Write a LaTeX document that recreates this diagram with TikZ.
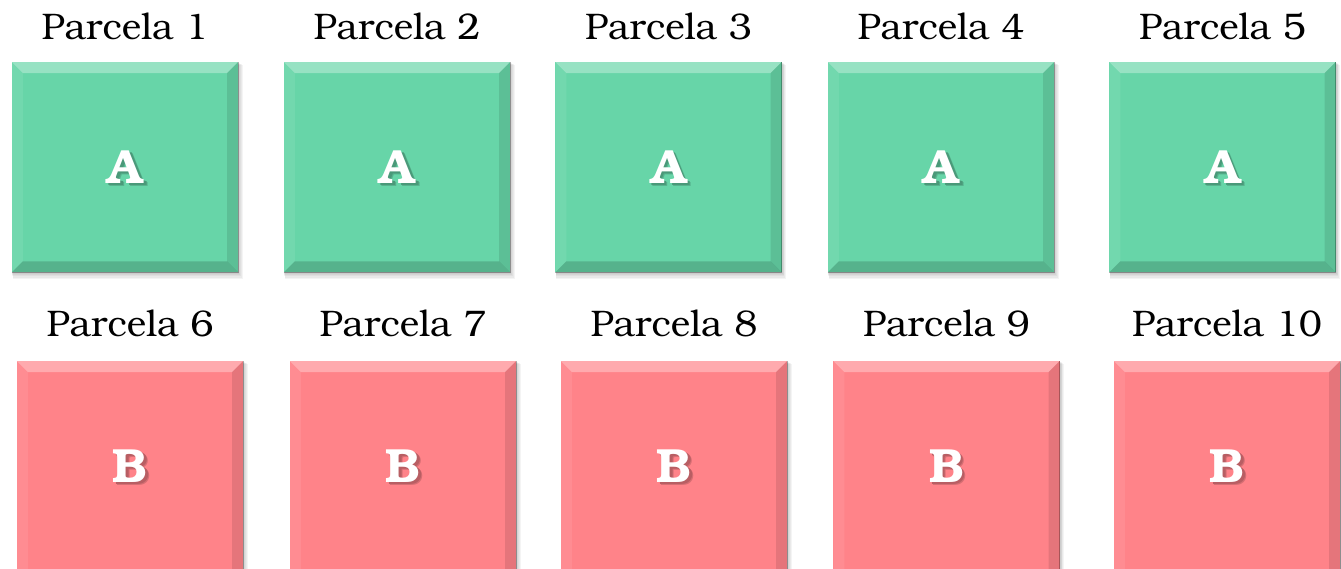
\documentclass[tikz,border=0pt]{standalone}
\usepackage[T1]{fontenc}
\usepackage{bookman}
\usetikzlibrary{calc}
\definecolor{gA}{RGB}{103,213,168}
\definecolor{gB}{RGB}{255,131,137}
\tikzset{
  parcel/.style={rectangle, inner sep=0pt, minimum width=226pt, minimum height=210pt, draw=none},
  tallparcel/.style={parcel, minimum height=226pt},
  plabel/.style={anchor=base, inner sep=0pt, font=\fontsize{37}{40}\selectfont},
  pletter/.style={inner sep=0pt, font=\fontsize{48}{50}\selectfont\bfseries, text=white},
  bevlight/.style={fill=white, opacity=0.32},
  bevside/.style={fill=white, opacity=0.08},
  bevdark/.style={fill=black, opacity=0.10},
  bevbot/.style={fill=black, opacity=0.16},
  boxshadow/.style={fill=black, opacity=0.045},
  boxedge/.style={draw=black, opacity=0.3, line width=1pt},
}
\newcommand\shadowed[2]{%
  \rlap{\hspace{3.5pt}\raisebox{-3.5pt}{\textcolor{#1!84!black}{#2}}}%
  \rlap{\hspace{2.5pt}\raisebox{-2.5pt}{\textcolor{#1!72!black}{#2}}}%
  #2}
% #1 name, #2 style, #3 x of centre, #4 y of top, #5 colour, #6 letter, #7 label, #8 label baseline
\newcommand\drawparcel[8]{%
  \node[#2, fill=#5, anchor=north] (#1) at (#3,#4) {};
  \foreach \s in {1,...,5} {\fill[boxshadow] ([shift={(0.2*\s,0.6*\s)}]#1.north west) rectangle ([shift={(0.9*\s,1.3*\s)}]#1.south east);}
  \fill[#5] (#1.north west) rectangle (#1.south east);
  \fill[bevlight] (#1.north west) -- (#1.north east) -- ([shift={(-11,11)}]#1.north east) -- ([shift={(11,11)}]#1.north west) -- cycle;
  \fill[bevside] (#1.north west) -- ([shift={(11,11)}]#1.north west) -- ([shift={(11,-11)}]#1.south west) -- (#1.south west) -- cycle;
  \fill[bevdark] (#1.north east) -- ([shift={(-11,11)}]#1.north east) -- ([shift={(-11,-11)}]#1.south east) -- (#1.south east) -- cycle;
  \fill[bevbot] (#1.south west) -- ([shift={(11,-11)}]#1.south west) -- ([shift={(-11,-11)}]#1.south east) -- (#1.south east) -- cycle;
  \draw[boxedge] (#1.north east) -- (#1.south east) -- (#1.south west);
  \node[pletter] (#1t) at ([shift={(0,107)}]#1.north) {\shadowed{#5}{#6}};
  \node[plabel] (#1l) at (#3,#8) {#7};
}
\begin{document}
\begin{tikzpicture}[x=1pt,y=-1pt]
\useasboundingbox (0,0) rectangle (1341,568);
\clip (0,0) rectangle (1341,568);
\drawparcel{p1}{parcel}{125}{62}{gA}{A}{Parcela 1}{39}
\drawparcel{p2}{parcel}{397}{62}{gA}{A}{Parcela 2}{39}
\drawparcel{p3}{parcel}{668.5}{62}{gA}{A}{Parcela 3}{39}
\drawparcel{p4}{parcel}{941}{62}{gA}{A}{Parcela 4}{39}
\drawparcel{p5}{parcel}{1222.5}{62}{gA}{A}{Parcela 5}{39}
\drawparcel{p6}{tallparcel}{130}{361}{gB}{B}{Parcela 6}{336}
\drawparcel{p7}{tallparcel}{403}{361}{gB}{B}{Parcela 7}{336}
\drawparcel{p8}{tallparcel}{674}{361}{gB}{B}{Parcela 8}{336}
\drawparcel{p9}{tallparcel}{946.5}{361}{gB}{B}{Parcela 9}{336}
\drawparcel{p10}{tallparcel}{1227}{361}{gB}{B}{Parcela 10}{336}
\end{tikzpicture}
\end{document}
